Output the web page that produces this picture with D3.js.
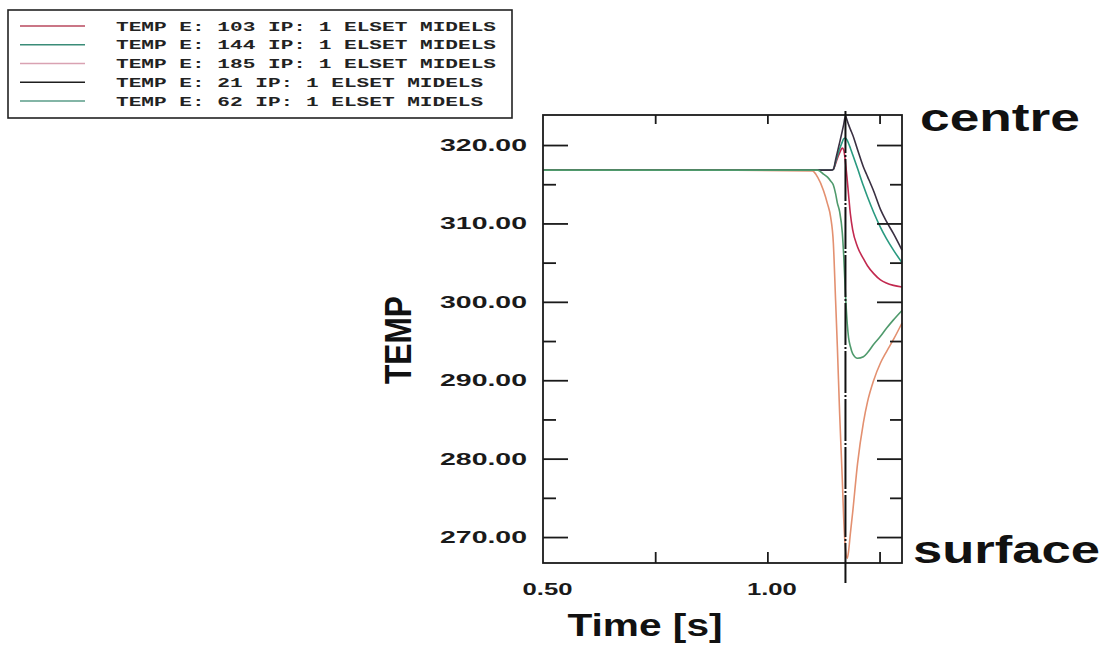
<!DOCTYPE html>
<html>
<head>
<meta charset="utf-8">
<script src="https://cdn.jsdelivr.net/npm/d3@7"></script>
<style>
  html, body { margin: 0; padding: 0; background: #ffffff; }
  svg { display: block; }
</style>
</head>
<body>
<svg id="chart" width="1109" height="646"></svg>
<script>
// Sample times (s), shared by every element series
const time = [0.50, 0.70, 0.90, 1.10, 1.112, 1.125, 1.134, 1.141, 1.147, 1.152, 1.156, 1.161,
              1.167, 1.170, 1.174, 1.178, 1.181, 1.185, 1.190, 1.201, 1.214, 1.223, 1.237,
              1.252, 1.265, 1.281, 1.30];

// Temperatures per element (E) in set MIDELS
const temp103 = [316.8, 316.8, 316.8, 316.8, 316.8, 316.8, 316.8, 316.8, 316.9, 317.6, 318.3, 319.0,
                 319.6, 319.4, 317.8, 315.5, 313.6, 311.2, 309.2, 307.0, 305.5, 304.6, 303.6,
                 302.8, 302.4, 302.1, 301.9];
const temp144 = [316.8, 316.8, 316.8, 316.8, 316.8, 316.8, 316.8, 316.8, 316.9, 317.8, 318.6, 319.5,
                 320.4, 320.8, 320.9, 320.6, 320.2, 319.6, 318.8, 317.0, 314.8, 313.4, 311.4,
                 309.5, 308.1, 306.6, 305.0];
const temp185 = [316.8, 316.8, 316.8, 316.7, 315.9, 314.2, 312.5, 310.8, 307.5, 300.2, 294.2, 285.8,
                 277.3, 272.5, 268.5, 267.3, 268.2, 270.5, 273.1, 279.4, 284.6, 287.2, 290.0,
                 292.2, 293.6, 295.2, 297.3];
const temp21  = [316.8, 316.8, 316.8, 316.8, 316.8, 316.8, 316.8, 316.8, 316.9, 318.1, 319.1, 320.3,
                 321.8, 322.6, 323.7, 323.1, 322.6, 322.0, 321.3, 319.4, 317.2, 316.0, 314.1,
                 311.8, 310.3, 308.7, 306.6];
const temp62  = [316.8, 316.8, 316.8, 316.8, 316.8, 316.3, 315.9, 315.4, 314.9, 313.8, 312.6, 311.5,
                 308.8, 306.0, 301.0, 297.2, 295.4, 294.3, 293.4, 292.8, 293.0, 293.5, 294.6,
                 295.6, 296.6, 297.7, 298.9];

const seriesNames = ["TEMP E: 103 IP: 1 ELSET MIDELS", "TEMP E: 144 IP: 1 ELSET MIDELS",
                     "TEMP E: 185 IP: 1 ELSET MIDELS", "TEMP E: 21 IP: 1 ELSET MIDELS",
                     "TEMP E: 62 IP: 1 ELSET MIDELS"];
const seriesValues = [temp103, temp144, temp185, temp21, temp62];
const plotColors   = ["#c2294f", "#2a9a80", "#e39070", "#3a3042", "#4f9a6c"];
const legendColors = ["#b8485e", "#3a8c78", "#d9a2b2", "#1e1e1e", "#5a9c88"];

const yMajorTicks = [270, 280, 290, 300, 310, 320];
const yMinorTicks = [275, 285, 295, 305, 315];
const xLabelTicks = [0.50, 1.00];
const xTicks = [0.75, 1.00, 1.25];
const markerTime = 1.174;   // time of the dash-dot marker line

const svg = d3.select("#chart");
const plotL = 543, plotR = 902, plotT = 115, plotB = 563;

const x = d3.scaleLinear().domain([0.5, 1.3]).range([plotL, plotR]);
const y = d3.scaleLinear().domain([266.69, 323.83]).range([plotB, plotT]);

// ---- legend box ----
const lg = svg.append("g");
lg.append("rect").attr("x", 8).attr("y", 10).attr("width", 504).attr("height", 108)
  .attr("fill", "#fff").attr("stroke", "#222").attr("stroke-width", 1.6);
seriesNames.forEach((name, i) => {
  const cy = 26 + i * 18.75;
  lg.append("line").attr("x1", 20).attr("x2", 85).attr("y1", cy).attr("y2", cy)
    .attr("stroke", legendColors[i]).attr("stroke-width", 1.6);
  lg.append("text").attr("x", 116).attr("y", cy + 4.5)
    .attr("font-family", "Liberation Mono, DejaVu Sans Mono, monospace")
    .attr("font-weight", "bold").attr("font-size", 13).attr("fill", "#222")
    .attr("textLength", name.length * 12.8 - 4).attr("lengthAdjust", "spacingAndGlyphs")
    .text(name);
});

// ---- curves ----
const line = d3.line().x((d, i) => x(time[i])).y(d => y(d)).curve(d3.curveMonotoneX);
const plot = svg.append("g");
seriesValues.forEach((vals, i) => {
  plot.append("path").datum(vals).attr("d", line)
    .attr("fill", "none").attr("stroke", plotColors[i]).attr("stroke-width", 1.6);
});

// ---- frame and ticks ----
const frame = svg.append("g").attr("stroke", "#1a1a1a").attr("stroke-width", 1.8);
frame.append("rect").attr("x", plotL).attr("y", plotT).attr("width", plotR - plotL)
  .attr("height", plotB - plotT).attr("fill", "none");

function styleAxis(g) {
  g.select(".domain").remove();
  g.selectAll(".tick line").attr("stroke", "#1a1a1a").attr("stroke-width", 1.8);
}
svg.append("g").attr("transform", `translate(${plotL},0)`)
  .call(d3.axisRight(y).tickValues(yMajorTicks).tickSize(25).tickFormat("")).call(styleAxis);
svg.append("g").attr("transform", `translate(${plotL},0)`)
  .call(d3.axisRight(y).tickValues(yMinorTicks).tickSize(13).tickFormat("")).call(styleAxis);
svg.append("g").attr("transform", `translate(${plotR},0)`)
  .call(d3.axisLeft(y).tickValues(yMajorTicks).tickSize(25).tickFormat("")).call(styleAxis);
svg.append("g").attr("transform", `translate(${plotR},0)`)
  .call(d3.axisLeft(y).tickValues(yMinorTicks).tickSize(12).tickFormat("")).call(styleAxis);
svg.append("g").attr("transform", `translate(0,${plotB})`)
  .call(d3.axisTop(x).tickValues(xTicks).tickSize(11).tickFormat("")).call(styleAxis);
svg.append("g").attr("transform", `translate(0,${plotT})`)
  .call(d3.axisBottom(x).tickValues(xTicks).tickSize(9).tickFormat("")).call(styleAxis);

// ---- tick labels ----
const yLab = svg.append("g").attr("transform", `translate(${plotL},0)`)
  .call(d3.axisLeft(y).tickValues(yMajorTicks).tickSize(0).tickPadding(16).tickFormat(d3.format(".2f")));
yLab.select(".domain").remove();
yLab.selectAll("text").attr("font-family", "Liberation Sans, Arial, sans-serif")
  .attr("font-weight", "bold").attr("font-size", 17).attr("fill", "#1a1a1a")
  .attr("textLength", 87).attr("lengthAdjust", "spacingAndGlyphs");

const xLab = svg.append("g").attr("transform", `translate(4,${plotB})`)
  .call(d3.axisBottom(x).tickValues(xLabelTicks).tickSize(0).tickPadding(20).tickFormat(d3.format(".2f")));
xLab.select(".domain").remove();
xLab.selectAll("text").attr("font-family", "Liberation Sans, Arial, sans-serif")
  .attr("font-weight", "bold").attr("font-size", 17).attr("fill", "#1a1a1a")
  .attr("textLength", 50).attr("lengthAdjust", "spacingAndGlyphs");

// ---- marker line ----
svg.append("line").attr("x1", x(markerTime)).attr("x2", x(markerTime))
  .attr("y1", plotT - 4).attr("y2", plotB + 20)
  .attr("stroke", "#111").attr("stroke-width", 2).attr("stroke-dasharray", "42,2,2,2");

// ---- titles ----
const bold = sel => sel.attr("font-family", "Liberation Sans, Arial, sans-serif")
  .attr("font-weight", "bold").attr("fill", "#111").attr("lengthAdjust", "spacingAndGlyphs");

svg.append("text").attr("x", 645).attr("y", 636).attr("text-anchor", "middle")
  .attr("font-size", 31).attr("textLength", 155).call(bold).text("Time [s]");
svg.append("text").attr("transform", "translate(411,340) rotate(-90)").attr("text-anchor", "middle")
  .attr("font-size", 37).attr("textLength", 88).call(bold).text("TEMP");
svg.append("text").attr("x", 920).attr("y", 131)
  .attr("font-size", 38).attr("textLength", 160).call(bold).text("centre");
svg.append("text").attr("x", 913).attr("y", 563)
  .attr("font-size", 38).attr("textLength", 187).call(bold).text("surface");
</script>
</body>
</html>
